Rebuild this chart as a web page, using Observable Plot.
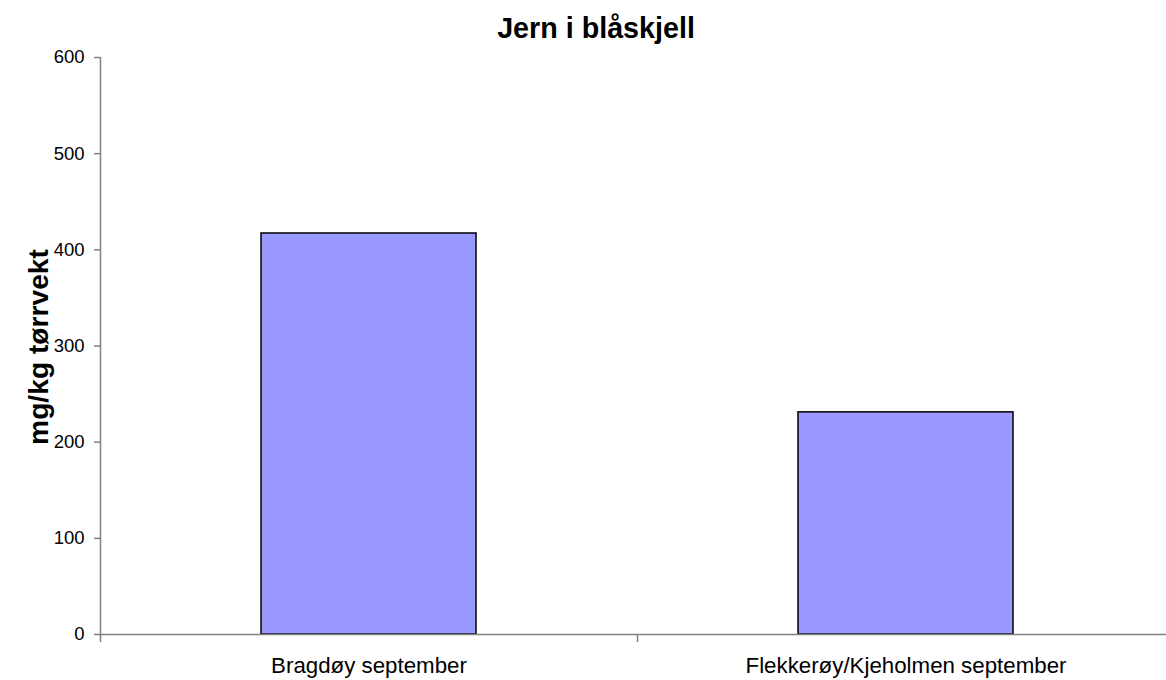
<!DOCTYPE html>
<html>
<head>
<meta charset="utf-8">
<script src="https://cdn.jsdelivr.net/npm/d3@7"></script>
<script src="https://cdn.jsdelivr.net/npm/@observablehq/plot@0.6"></script>
<style>
  html, body { margin: 0; padding: 0; background: #fff; overflow: hidden; }
  #wrap { position: relative; width: 1166px; height: 680px; overflow: hidden; font-family: "Liberation Sans", Arial, sans-serif; }
  #title { position: absolute; left: 0; width: 1192px; top: 12px; text-align: center; font-weight: bold; font-size: 28.7px; line-height: 32px; color: #000; }
  #ylabel { position: absolute; left: 38px; top: 347px; transform: translate(-50%, -50%) rotate(-90deg); white-space: nowrap; font-weight: bold; font-size: 28.2px; color: #000; }
  #chart { position: absolute; left: 0; top: 0; width: 1174px; }
  #chart svg { max-width: none !important; }
</style>
</head>
<body>
<div id="wrap">
  <div id="chart"></div>
  <div id="title">Jern i blåskjell</div>
  <div id="ylabel">mg/kg tørrvekt</div>
</div>
<script>
const categories = ["Bragdøy september", "Flekkerøy/Kjeholmen september"];
const values = [417, 231];
const yTicks = [0, 100, 200, 300, 400, 500, 600];

const data = categories.map((c, i) => ({category: c, value: values[i]}));

const width = 1174, marginLeft = 100, marginRight = 0;
const step = (width - marginLeft - marginRight) / categories.length;

const chart = Plot.plot({
  width: width,
  height: 680,
  marginTop: 57,
  marginBottom: 46,
  marginLeft: marginLeft,
  marginRight: marginRight,
  style: {fontFamily: '"Liberation Sans", Arial, sans-serif', fontSize: "18.5px", background: "transparent", color: "#000", maxWidth: "none"},
  x: {domain: categories, paddingInner: 0.6, paddingOuter: 0.3, axis: null},
  y: {domain: [0, 600], axis: null},
  marks: [
    Plot.barY(data, {x: "category", y: "value", fill: "#9999ff", stroke: "#000", strokeWidth: 1.5}),
    Plot.ruleY([0], {stroke: "#808080", strokeWidth: 1.5}),
    Plot.ruleX([categories[0]], {dx: -step / 2, y1: 0, y2: 600, stroke: "#808080", strokeWidth: 1.5}),
    Plot.axisY({ticks: yTicks, tickSize: 6, tickPadding: 10, fontSize: 18.5, stroke: "#808080", strokeWidth: 1.5, fill: "#000", label: null}),
    Plot.axisX({tickSize: 8, tickPadding: 0, dx: -step / 2, tickFormat: () => "", stroke: "#808080", strokeWidth: 1.5, label: null}),
    Plot.axisX({tickSize: 0, tickPadding: 23, fontSize: 22.3, fill: "#000", label: null})
  ]
});
chart.style.maxWidth = "none";
document.getElementById("chart").appendChild(chart);
</script>
</body>
</html>
